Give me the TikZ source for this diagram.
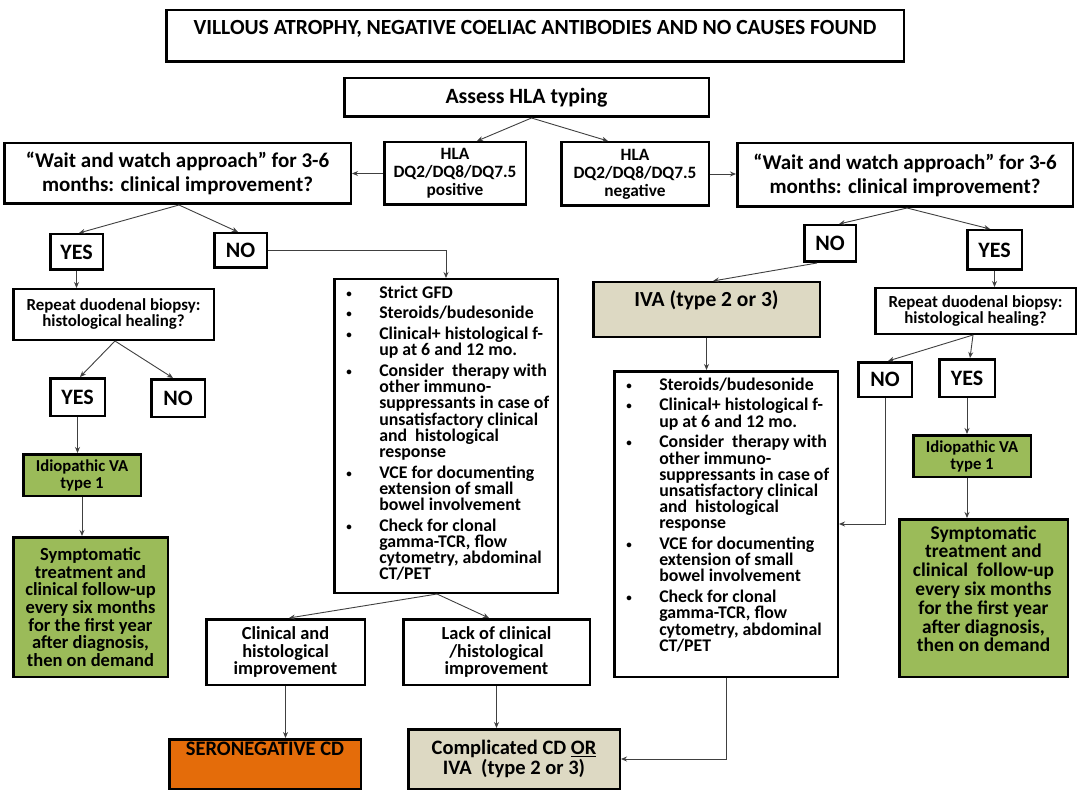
\documentclass[tikz,border=0pt]{standalone}
\usepackage{fontspec}
\setmainfont{Carlito}
\usetikzlibrary{arrows.meta,calc}
\usepackage{xcolor}
\definecolor{vagreen}{HTML}{9BBB59}
\definecolor{ivatan}{HTML}{DDD9C3}
\definecolor{seroorange}{HTML}{E46C0A}
\definecolor{linkgray}{HTML}{404040}
\newcommand{\bitem}[1]{\mbox{\hspace*{12pt}\makebox[33pt][l]{\raisebox{1pt}{\fontsize{11}{11}\selectfont\textbullet}}#1}}
\newcommand{\bcont}[1]{\mbox{\hspace*{45pt}#1}}

\begin{document}
\begin{tikzpicture}
    [x=1pt, y=-1pt,
     >={Stealth[length=6pt,width=5pt]},  % small filled tips
     fs/.style 2 args={font=\bfseries\fontsize{#1}{#2}\selectfont},
     box/.style={draw=black, line width=2.5pt, fill=white, align=center, inner sep=0pt},
     greenbox/.style={box, fill=vagreen},
     tanbox/.style={box, fill=ivatan},
     link/.style={->, draw=linkgray, line width=0.9pt},
    ]
\path[use as bounding box, fill=white] (0,0) rectangle (1078,791);

% top of the chart
\node[box, fs={21.6}{26}, minimum width=737.5pt, text height=24.75pt, text depth=26.75pt] (title) at (535,36) {VILLOUS ATROPHY, NEGATIVE COELIAC ANTIBODIES AND NO CAUSES FOUND};
\node[box, fs={21.8}{26}, minimum width=364.5pt, minimum height=38.5pt] (hla) at (526.5,97.5) {Assess HLA typing};
\node[box, fs={17.3}{18}, minimum width=141.5pt, minimum height=62.5pt] (hlapos) at (455,173.5) {HLA\\DQ2/DQ8/DQ7.5\\positive};
\node[box, fs={17.3}{18}, minimum width=147.5pt, minimum height=63.5pt] (hlaneg) at (635,174) {HLA\\DQ2/DQ8/DQ7.5\\negative};
\node[box, fs={21}{24}, minimum width=346.5pt, minimum height=60.5pt] (waitL) at (177.5,173.5) {“Wait and watch approach” for 3-6\\months: clinical improvement?};
\node[box, fs={21}{24}, minimum width=335.5pt, minimum height=63.5pt] (waitR) at (905,175) {“Wait and watch approach” for 3-6\\months: clinical improvement?};

% positive branch
\node[box, fs={22}{24}, minimum width=52.5pt, minimum height=35.5pt] (yesL) at (76.5,252) {YES};
\node[box, fs={22}{24}, minimum width=52.5pt, minimum height=34.5pt] (noL) at (240.5,250.5) {NO};
\node[box, fs={16.9}{16}, minimum width=200.5pt, minimum height=50.5pt] (bioL) at (113.5,314.5) {Repeat duodenal biopsy:\\histological healing?};
\node[box, fs={22}{24}, minimum width=54.5pt, minimum height=37.5pt] (yesL2) at (77.5,397) {YES};
\node[box, fs={22}{24}, minimum width=53.5pt, minimum height=37.5pt] (noL2) at (178,398) {NO};
\node[greenbox, fs={16.7}{17}, minimum width=117.5pt, minimum height=41.5pt] (idioL) at (82,475) {Idiopathic VA\\type 1};
\node[greenbox, fs={18.5}{17.6}, minimum width=154.5pt, minimum height=139.5pt] (sympL) at (90.5,607) {Symptomatic\\treatment and\\clinical follow-up\\every six months\\for the first year\\after diagnosis,\\then on demand};
\node[box, fs={17.8}{16.2}, minimum width=223.5pt, minimum height=313.5pt] (gfd) at (446,436) {\parbox[c][313.5pt][t]{223.5pt}{\vspace*{6.5pt}%
\bitem{\rule{0pt}{12pt}Strict GFD}\\[4.5pt]
\bitem{Steroids/budesonide}\\[4.5pt]
\bitem{Clinical+ histological f-}\\
\bcont{up at 6 and 12 mo.}\\[4.5pt]
\bitem{Consider~ therapy with}\\
\bcont{other immuno-}\\
\bcont{suppressants in case of}\\
\bcont{unsatisfactory clinical}\\
\bcont{and~ histological}\\
\bcont{response}\\[4.5pt]
\bitem{VCE for documenting}\\
\bcont{extension of small}\\
\bcont{bowel involvement}\\[4.5pt]
\bitem{Check for clonal}\\
\bcont{gamma-TCR, flow}\\
\bcont{cytometry, abdominal}\\
\bcont{CT/PET}}};
\node[box, fs={18.4}{17.6}, minimum width=158.5pt, minimum height=65.5pt] (clin) at (285.5,652) {Clinical and\\histological\\improvement};
\node[box, fs={18.4}{17.6}, minimum width=186.5pt, minimum height=65.5pt] (lack) at (496.5,652) {Lack of clinical\\/histological\\improvement};
\node[box, fill=seroorange, fs={20.5}{24}, minimum width=191.5pt, text height=15.75pt, text depth=33.75pt] (sero) at (265,764) {SERONEGATIVE CD};
\node[tanbox, fs={20.5}{19.5}, minimum width=211.5pt, minimum height=59.5pt] (comp) at (514,759) {Complicated CD \underline{OR}\\IVA~ (type 2 or 3)};

% negative branch
\node[box, fs={22}{24}, minimum width=51.5pt, minimum height=36.5pt] (noR) at (830,243.5) {NO};
\node[box, fs={22}{24}, minimum width=54.5pt, minimum height=39.5pt] (yesR) at (994.5,250) {YES};
\node[tanbox, fs={21.5}{24}, minimum width=226.5pt, text height=24.75pt, text depth=29.75pt] (iva) at (706.5,309.5) {IVA (type 2 or 3)};
\node[box, fs={17.8}{16.2}, minimum width=223.5pt, minimum height=305.5pt] (ivalist) at (726,524) {\parbox[c][305.5pt][t]{223.5pt}{\vspace*{6.5pt}%
\bitem{\rule{0pt}{12pt}Steroids/budesonide}\\[4.5pt]
\bitem{Clinical+ histological f-}\\
\bcont{up at 6 and 12 mo.}\\[4.5pt]
\bitem{Consider~ therapy with}\\
\bcont{other immuno-}\\
\bcont{suppressants in case of}\\
\bcont{unsatisfactory clinical}\\
\bcont{and~ histological}\\
\bcont{response}\\[4.5pt]
\bitem{VCE for documenting}\\
\bcont{extension of small}\\
\bcont{bowel involvement}\\[4.5pt]
\bitem{Check for clonal}\\
\bcont{gamma-TCR, flow}\\
\bcont{cytometry, abdominal}\\
\bcont{CT/PET}}};
\node[box, fs={16.9}{16}, minimum width=200.5pt, minimum height=45.5pt] (bioR) at (975.5,311) {Repeat duodenal biopsy:\\histological healing?};
\node[box, fs={22}{24}, minimum width=53.5pt, minimum height=34.5pt] (noR2) at (885,379.5) {NO};
\node[box, fs={22}{24}, minimum width=55.5pt, minimum height=37.5pt] (yesR2) at (967,378) {YES};
\node[greenbox, fs={16.7}{17}, minimum width=117.5pt, minimum height=41.5pt] (idioR) at (972,456) {Idiopathic VA\\type 1};
\node[greenbox, fs={19.4}{18.8}, minimum width=168.5pt, minimum height=157.5pt] (sympR) at (983.5,598) {Symptomatic\\treatment and\\clinical~ follow-up\\every six months\\for the first year\\after diagnosis,\\then on demand\\\mbox{}};

% connectors
\draw[link] ([xshift=5pt]hla.south) -- ([xshift=22pt]hlapos.north);
\draw[link] ([xshift=5pt]hla.south) -- ([xshift=-27pt]hlaneg.north);
\draw[link] (hlapos.west) -- (hlapos.west -| waitL.east);
\draw[link] (hlaneg.east) -- (hlaneg.east -| waitR.west);
\draw[link] ([xshift=1.5pt]waitL.south) -- ([xshift=2.5pt]yesL.north);
\draw[link] ([xshift=1.5pt]waitL.south) -- ([xshift=-2.5pt]noL.north);
\draw[link] (noL.east) -| (gfd.north);
\draw[link] (yesL.south) -- (yesL.south |- bioL.north);
\draw[link] ([xshift=1.5pt]bioL.south) -- ([xshift=2.5pt]yesL2.north);
\draw[link] ([xshift=1.5pt]bioL.south) -- ([xshift=-5pt]noL2.north);
\draw[link] (yesL2.south) -- (yesL2.south |- idioL.north);
\draw[link] (idioL.south) -- (idioL.south |- sympL.north);
\draw[link] ([xshift=-9pt]gfd.south) -- ([xshift=3.5pt]clin.north);
\draw[link] ([xshift=-9pt]gfd.south) -- ([xshift=-7.5pt]lack.north);
\draw[link] (clin.south) -- (clin.south |- sero.north);
\draw[link] (lack.south) -- (lack.south |- comp.north);
\draw[link] (ivalist.south) |- (comp.east);
\draw[link] ([xshift=2pt]waitR.south) -- ([xshift=9pt]noR.north);
\draw[link] ([xshift=2pt]waitR.south) -- ([xshift=-4.5pt]yesR.north);
\draw[link] ([xshift=-13pt]noR.south) -- ([xshift=6.5pt]iva.north);
\draw[link] (yesR.south) -- (yesR.south |- bioR.north);
\draw[link] (iva.south) -- (iva.south |- ivalist.north);
\draw[link] ([xshift=-2.5pt]bioR.south) -- ([xshift=3pt]noR2.north);
\draw[link] ([xshift=-2.5pt]bioR.south) -- ([xshift=3pt]yesR2.north);
\draw[link] (noR2.south) |- (ivalist.east);
\draw[link] (yesR2.south) -- (yesR2.south |- idioR.north);
\draw[link] (yesR2.south |- idioR.south) -- (yesR2.south |- sympR.north);

\end{tikzpicture}
\end{document}
